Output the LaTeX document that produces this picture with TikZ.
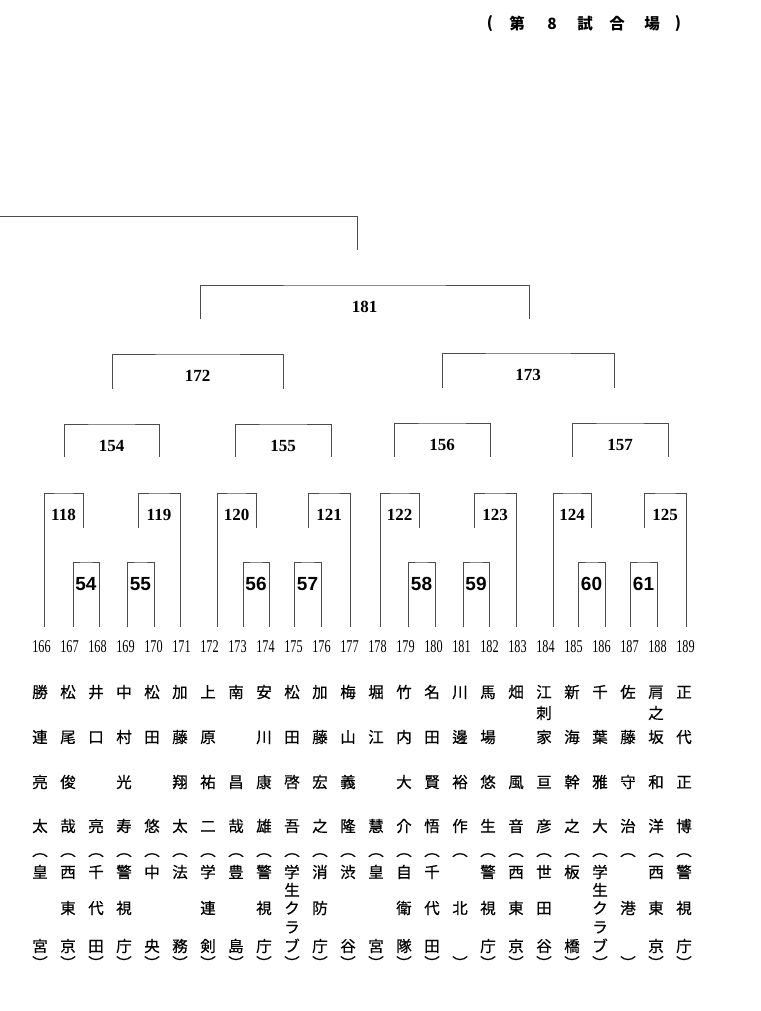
\documentclass[tikz,border=0pt]{standalone}
\usepackage{fontspec}
\setmainfont{Liberation Serif}
\setsansfont{Liberation Sans}
\newfontfamily\jp{Noto Sans CJK JP}
\newfontfamily\jpname{Noto Sans CJK JP}[FakeBold=0.5]
\usetikzlibrary{positioning,calc}

\tikzset{
  bline/.style={draw=black!70, line width=0.75pt},
  seed/.style={font=\fontsize{18}{18}\selectfont, xscale=0.68, inner sep=0pt},
  rnum/.style={font=\fontsize{17}{17}\selectfont\bfseries, inner sep=0pt},
  fnum/.style={font=\fontsize{19}{19}\selectfont\sffamily\bfseries, inner sep=0pt},
  kanji/.style={font=\fontsize{15.5}{15.5}\selectfont\jpname, inner sep=0pt,
    text height=13.6pt, text depth=1.9pt},
  popen/.style={kanji, text height=5pt, text depth=0pt},
  pclose/.style={kanji, text height=14pt, text depth=0pt},
  title/.style={font=\fontsize{15.5}{15.5}\selectfont\jp\bfseries, inner sep=0pt}
}

\begin{document}
\begin{tikzpicture}[x=1pt,y=-1pt]
\useasboundingbox (0,0) rectangle (760,1011);

% title
\foreach \x/\c [count=\i] in {490/(,517/第,552/8,585/試,617/合,652/場,678/)}
  \node[title] (t\i) at (\x,24) {\c};

% entry lines and numbers
\foreach \n/\x [count=\k from 0] in {166/44,167/73,168/99,169/127,170/154,171/180,
    172/217,173/243,174/269,175/294,176/321,177/350,178/380,179/408,180/435,181/463,
    182/489,183/516,184/553,185/578,186/605,187/630,188/657,189/686} {
  \coordinate (p\n) at (\x,627);
  \node[seed] (n\n) at (41.5+28*\k,647) {\n};
}

% first round
\foreach \m/\a/\b in {54/167/168,55/169/170,56/173/174,57/175/176,
    58/179/180,59/181/182,60/185/186,61/187/188} {
  \draw[bline] (p\a) |- ($(p\a)!.5!(p\b)+(0,-65)$) coordinate (m\m) -| (p\b);
  \node[fnum] (l\m) at ($(m\m)+(0,22)$) {\m};
}

% second round
\foreach \m/\a/\s in {118/166/83,120/172/256,122/178/419,124/184/591} {
  \coordinate (s\m) at (\s,528);
  \coordinate (m\m) at ($(p\a |- s\m)!.5!(s\m)+(0,-35)$);
  \draw[bline] (p\a) |- (m\m) -| (s\m);
  \node[rnum] (l\m) at ($(m\m)+(0,22)$) {\m};
}
\foreach \m/\s/\b in {119/138/171,121/308/177,123/474/183,125/644/189} {
  \coordinate (s\m) at (\s,528);
  \coordinate (m\m) at ($(s\m)!.5!(p\b |- s\m)+(0,-35)$);
  \draw[bline] (s\m) |- (m\m) -| (p\b);
  \node[rnum] (l\m) at ($(m\m)+(0,22)$) {\m};
}

% later rounds
\foreach \m/\l/\r/\t/\b in {154/64/159/424/457,155/235/331/424/457,
    156/394/490/423/457,157/572/668/423/457,
    172/112/283/354/389,173/442/614/353/388,181/200/529/285/319} {
  \coordinate (a\m) at (\l,\b);
  \coordinate (b\m) at (\r,\b);
  \draw[bline] (a\m) |- ($(a\m)!.5!(b\m)+(0,\t-\b)$) coordinate (m\m) -| (b\m);
  \node[rnum] (l\m) at ($(m\m)+(0,22)$) {\m};
}
\coordinate (f0) at (0,216);
\coordinate (f1) at (357,250);
\draw[bline] (f0) -| (f1);

% names and teams
\foreach \a/\b/\c/\d/\e/\f/\g [count=\k from 0] in {勝/連/亮/太/皇//宮,
    松/尾/俊/哉/西/東/京,井/口//亮/千/代/田,中/村/光/寿/警/視/庁,
    松/田//悠/中//央,加/藤/翔/太/法//務,上/原/祐/二/学/連/剣,
    南//昌/哉/豊//島,安/川/康/雄/警/視/庁,松/田/啓/吾/学/ク/ブ,
    加/藤/宏/之/消/防/庁,梅/山/義/隆/渋//谷,堀/江//慧/皇//宮,
    竹/内/大/介/自/衛/隊,名/田/賢/悟/千/代/田,川/邊/裕/作//北/,
    馬/場/悠/生/警/視/庁,畑//風/音/西/東/京,江/家/亘/彦/世/田/谷,
    新/海/幹/之/板//橋,千/葉/雅/大/学/ク/ブ,佐/藤/守/治//港/,
    肩/坂/和/洋/西/東/京,正/代/正/博/警/視/庁} {
  \node[kanji] (w\k-1) at (40+28*\k,692) {\a};
  \node[kanji] (w\k-2) at (40+28*\k,737) {\b};
  \node[kanji] (w\k-3) at (40+28*\k,782) {\c};
  \node[kanji] (w\k-4) at (40+28*\k,826) {\d};
  \node[popen] (w\k-o) at (40+28*\k,853.5) {︵};
  \node[kanji] (w\k-5) at (40+28*\k,872) {\e};
  \node[kanji] (w\k-6) at (40+28*\k,908) {\f};
  \node[kanji] (w\k-7) at (40+28*\k,946) {\g};
  \node[pclose] (w\k-c) at (40+28*\k,962) {︶};
}
\foreach \k/\y/\c in {18/713/刺,22/713/之,9/890/生,9/927/ラ,20/890/生,20/927/ラ}
  \node[kanji] (x\k-\y) at (40+28*\k,\y) {\c};
\end{tikzpicture}
\end{document}
